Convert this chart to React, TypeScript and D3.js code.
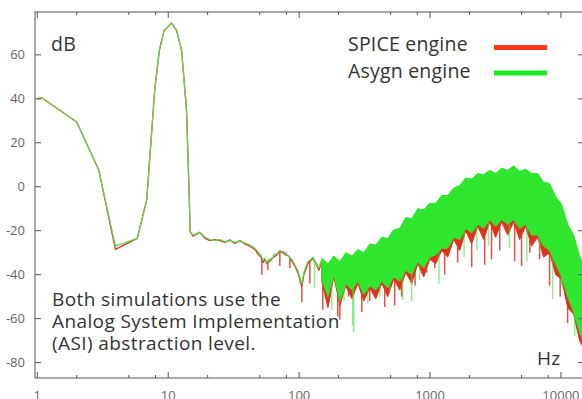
import React from "react";
import * as d3 from "d3";

// low / mid frequency part: one polyline per engine
const lineFreq = [1, 1.08, 2, 2.95, 3.95, 5.8, 6.85, 7.9, 8.55, 9.3, 10.6, 11.6, 12.65, 13.8, 14.5, 14.7, 15.5, 17.4, 19.1, 20.8, 22.7, 24.8, 27.1, 29.6, 32.3, 35.3, 38.5, 42.0, 45.9, 48.4, 51.0, 52.8, 54.7, 56.6, 58.7, 60.8, 64.1, 67.6, 71.2, 75.1, 79.2, 83.4, 87.9, 92.7, 97.7, 101.2, 104.9, 108.6, 112.5, 116.6, 120.8, 127.3, 134.2, 141.5, 149.1];
const spiceLine = [40, 40.5, 29.5, 7.5, -28.5, -23.5, -6, 44.7, 62, 71, 74.5, 71, 62, 34.8, -6, -20.5, -22.5, -20.8, -23.5, -24.5, -24, -24.5, -25.3, -24.2, -25.8, -24.5, -26, -27, -28.5, -30.5, -32, -34.5, -33, -35, -34, -33, -32, -31, -29.5, -30, -31, -31.5, -34, -36, -39, -42, -45.5, -40, -37.5, -35, -34, -32.5, -35, -38, -34];
const asygnLine = [40, 40.5, 29.5, 7.5, -27, -23.5, -6, 44.7, 62, 71, 74.5, 71, 62, 34.8, -6, -20.5, -22, -20.6, -23, -24, -24.5, -24, -25, -24.5, -25.2, -24.8, -25.5, -26.5, -28, -29.5, -31, -33, -32.5, -34.5, -33, -34, -31, -30.5, -29, -29.5, -30, -32, -33, -35.5, -38, -41, -44, -39, -36.5, -34, -33.5, -32, -34.5, -37, -33];

// high frequency part: dense band (top / bottom of the solid trace)
const bandFreq = [149, 166, 184, 205, 227, 253, 281, 312, 347, 385, 428, 475, 528, 587, 652, 725, 806, 895, 995, 1105, 1228, 1365, 1517, 1685, 1873, 2081, 2313, 2570, 2856, 3173, 3526, 3918, 4354, 4838, 5376, 5974, 6639, 7377, 8197, 9109, 10122, 11248, 12499, 13889, 15433];
const asygnHi = [-32.5, -35, -31.5, -34, -30, -31.5, -28.5, -30, -26, -26.5, -23, -23.5, -19.5, -19, -14, -14.5, -10, -10.5, -7.5, -7.5, -4, -4, -0.5, 0.5, 4, 3.5, 6, 5.5, 7.5, 6, 8.5, 7.5, 9.5, 7, 8, 6, 6, 2, 1.5, -4.5, -8, -17, -22, -31.5, -38];
const asygnLo = [-42, -50, -40, -52, -44, -47, -43, -49, -45, -47, -43, -46, -41, -43, -38, -40, -34, -37, -32, -31, -28, -28, -23, -24, -19, -21, -17, -19, -15, -18, -15, -17, -15, -19, -17, -22, -22, -27, -29, -35, -41, -50, -57, -66, -73];
const spiceHi = [-34.5, -37, -33.5, -36, -32, -33.5, -30.5, -32, -28, -28.5, -25, -25.5, -21.5, -21, -16, -16.5, -12, -12.5, -9.5, -9.5, -6, -6, -2.5, -1.5, 2, 1.5, 4, 3.5, 5.5, 4, 6.5, 5.5, 7.5, 5, 6, 4, 4, 0, -0.5, -6.5, -10, -19, -24, -33.5, -40];
const spiceLo = [-43, -55, -41, -54, -45, -51, -44, -52, -46, -51, -44, -50, -42, -47, -39, -44, -35, -41, -33, -35, -29, -32, -24, -29, -20, -26, -18, -24, -16, -23, -16, -22, -16, -24, -18, -27, -23, -32, -30, -40, -42, -55, -58, -70, -75];

// downward spikes below each trace
const spiceSpikeFreq = [51.9, 57.7, 71.2, 84.9, 104.9, 120.8, 151.6, 171.8, 197.3, 204.5, 238, 301, 346, 451, 537, 607, 768, 942, 1086, 1292, 1625, 2081, 2616, 2950, 3407, 4426, 5003, 5780, 6870, 8185, 9860, 11250];
const spiceSpikeDb = [-40, -38, -36, -37, -52.5, -44, -56, -48, -59, -60.5, -50, -57, -52, -54.7, -54, -50, -45, -39, -37, -40, -34.5, -36.5, -35.5, -33, -29, -34, -36, -30, -33, -45, -50, -62];
const asygnSpikeFreq = [101, 131, 177.7, 220, 256.6, 261, 334, 413, 495, 618, 724.6, 833, 1170, 1820, 2276, 2800, 4040, 5482, 6870, 8650, 10100, 12740];
const asygnSpikeDb = [-44, -46, -56, -52, -63, -66, -53, -50, -48, -51.5, -52, -42.5, -44, -32, -29, -27, -28, -34, -30, -51, -45, -68];

const xMajorTicks = [1, 10, 100, 1000, 10000];
const xMinorSteps = [2, 5, 8];
const yTicks = [-80, -60, -40, -20, 0, 20, 40, 60];
const seriesNames = ["SPICE engine", "Asygn engine"];
const seriesColors = ["#e2321f", "#2ee62e"];
const lineColors = ["#e2321f", "#62d653"];
const legendColors = ["#ff3418", "#1ee81e"];
const noteLines = ["Both simulations use the", "Analog System Implementation", "(ASI) abstraction level."];

const W = 582;
const H = 399;
const left = 35;
const right = 584;
const top = 12;
const bottom = 378;

const font = "'Open Sans', 'DejaVu Sans', sans-serif";

export default function App() {
	const x = d3.scaleLog().domain([0.96, 15000]).range([left, right]);
	const y = d3.scaleLinear().domain([-87, 79.5]).range([bottom, top]);

	const line = d3
		.line<[number, number]>()
		.x((d) => x(d[0]))
		.y((d) => y(d[1]));
	const area = d3
		.area<[number, number, number]>()
		.x((d) => x(d[0]))
		.y0((d) => y(d[2]))
		.y1((d) => y(d[1]));

	const series = [
		{ line: spiceLine, hi: spiceHi, lo: spiceLo, sf: spiceSpikeFreq, sd: spiceSpikeDb },
		{ line: asygnLine, hi: asygnHi, lo: asygnLo, sf: asygnSpikeFreq, sd: asygnSpikeDb },
	];

	const minorTicks: number[] = [];
	xMajorTicks.forEach((d) => xMinorSteps.forEach((m) => d * m < 15000 && minorTicks.push(d * m)));

	const tickColor = "#555";

	return (
		<svg width={W} height={H} style={{ position: "absolute", left: 0, top: 0 }}>
			<defs>
				<clipPath id="plot">
					<rect x={left} y={top} width={right - left} height={bottom - top} />
				</clipPath>
				<filter id="shadow" x="-10%" y="-100%" width="120%" height="300%">
					<feGaussianBlur stdDeviation="1.2" />
				</filter>
			</defs>
			<rect width={W} height={H} fill="#fff" />

			<g clipPath="url(#plot)">
				{series.map((s, i) => {
					const linePts = lineFreq.map((f, k) => [f, s.line[k]] as [number, number]);
					const bandPts = bandFreq.map((f, k) => [f, s.hi[k], s.lo[k]] as [number, number, number]);
					const lineAt = d3.scaleLog().domain(lineFreq).range(s.line);
					const loAt = d3.scaleLog().domain(bandFreq).range(s.lo);
					return (
						<g key={i}>
							<path d={line(linePts) || ""} fill="none" stroke={lineColors[i]} strokeWidth={1.3} strokeLinejoin="round" />
							<path d={area(bandPts) || ""} fill={seriesColors[i]} stroke={seriesColors[i]} strokeWidth={1} />
							{s.sf.map((f, k) => {
								const from = f < bandFreq[0] ? lineAt(f) : loAt(f);
								return (
									<line
										key={k}
										x1={x(f)}
										x2={x(f)}
										y1={y(from)}
										y2={y(s.sd[k])}
										stroke={seriesColors[i]}
										strokeWidth={1.5}
										opacity={i === 1 ? 0.55 : 0.85}
									/>
								);
							})}
						</g>
					);
				})}
			</g>

			{/* frame */}
			<rect x={left} y={top} width={right - left} height={bottom - top} fill="none" stroke={tickColor} strokeWidth={1} />

			{/* x ticks */}
			{xMajorTicks.map((t) => (
				<g key={t} stroke={tickColor}>
					<line x1={x(t)} x2={x(t)} y1={bottom} y2={bottom - 6} />
					<line x1={x(t)} x2={x(t)} y1={top} y2={top + 6} />
				</g>
			))}
			{minorTicks.map((t) => (
				<g key={t} stroke={tickColor}>
					<line x1={x(t)} x2={x(t)} y1={bottom} y2={bottom - 3} />
					<line x1={x(t)} x2={x(t)} y1={top} y2={top + 3} />
				</g>
			))}
			{xMajorTicks.map((t) => (
				<text key={t} x={x(t)} y={400} textAnchor="middle" fontFamily={font} fontSize={13} fill="#666">
					{t}
				</text>
			))}

			{/* y ticks */}
			{yTicks.map((t) => (
				<g key={t}>
					<line x1={left} x2={left + 6} y1={y(t)} y2={y(t)} stroke={tickColor} />
					<line x1={right} x2={right - 6} y1={y(t)} y2={y(t)} stroke={tickColor} />
					<text x={25} y={y(t)} dy="0.35em" textAnchor="end" fontFamily={font} fontSize={13} fill="#666">
						{t}
					</text>
				</g>
			))}

			{/* units */}
			<text x={51} y={51} fontFamily={font} fontSize={19.5} fill="#333" letterSpacing={0.3}>
				dB
			</text>
			<text x={537} y={365} fontFamily={font} fontSize={19} fill="#333" letterSpacing={0.3}>
				Hz
			</text>

			{/* legend */}
			{seriesNames.map((n, i) => (
				<g key={n}>
					<text x={348} y={51 + i * 27} fontFamily={font} fontSize={19.5} fill="#333" letterSpacing={0.2}>
						{n}
					</text>
					<line x1={494} x2={547} y1={49 + i * 25.5} y2={49 + i * 25.5} stroke="#999" strokeWidth={5} filter="url(#shadow)" />
					<line x1={494} x2={547} y1={47.5 + i * 25.5} y2={47.5 + i * 25.5} stroke={legendColors[i]} strokeWidth={5} />
				</g>
			))}

			{/* note */}
			{noteLines.map((l, i) => (
				<text key={i} x={52} y={306 + i * 22} fontFamily={font} fontSize={19} fill="#333" letterSpacing={0.4}>
					{l}
				</text>
			))}
		</svg>
	);
}
